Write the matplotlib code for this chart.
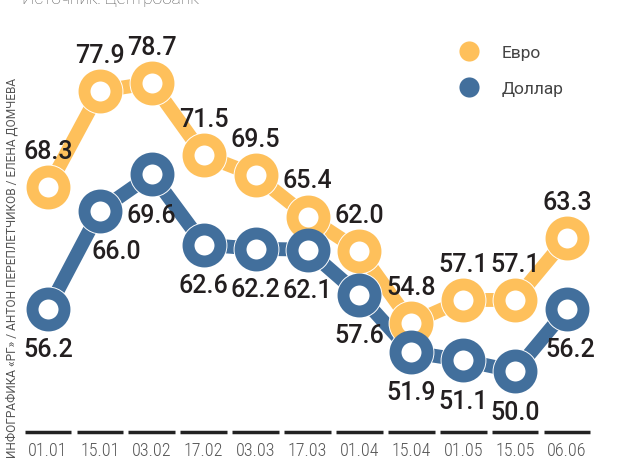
import matplotlib
matplotlib.use('Agg')
import matplotlib.pyplot as plt
from matplotlib import font_manager
from matplotlib.lines import Line2D

# Data: exchange rates, rubles
dates = ['01.01', '15.01', '03.02', '17.02', '03.03', '17.03',
         '01.04', '15.04', '01.05', '15.05', '06.06']
euro = [68.3, 77.9, 78.7, 71.5, 69.5, 65.4, 62.0, 54.8, 57.1, 57.1, 63.3]
dollar = [56.2, 66.0, 69.6, 62.6, 62.2, 62.1, 57.6, 51.9, 51.1, 50.0, 56.2]

# Colours
c_euro = '#FEC05B'
c_dollar = '#426F9C'
c_text = '#231F20'
c_grey = '#555555'

# Pick a narrow font for the date labels if one is installed
names = {f.name for f in font_manager.fontManager.ttflist}
narrow = 'Roboto'
for cand in ['Roboto Condensed', 'Liberation Sans Narrow', 'DejaVu Sans Condensed']:
    if cand in names:
        narrow = cand
        break

fig = plt.figure(figsize=(6.24, 4.64), dpi=100)
ax = fig.add_axes([0, 31 / 464, 1, 433 / 464])
x = list(range(len(dates)))


def draw_series(vals, color):
    ax.plot(x, vals, color=color, lw=10, solid_capstyle='butt', zorder=2)
    ax.plot(x, vals, ls='none', marker='o', ms=33, mfc='white', mec='none', zorder=3)
    ax.plot(x, vals, ls='none', marker='o', ms=23, mfc='white', mec=color, mew=8.6, zorder=4)


draw_series(euro, c_euro)
draw_series(dollar, c_dollar)

# Value labels
dx_dollar = [0, 12, 0, 0, 0, 0, 0, 0, 0, 0, 2]
for i, v in enumerate(euro):
    ax.annotate(f'{v:.1f}', (i, v), xytext=(0, 26), textcoords='offset points',
                ha='center', va='center', fontsize=18, fontweight='medium',
                family='Roboto', color=c_text, zorder=5)
for i, v in enumerate(dollar):
    ax.annotate(f'{v:.1f}', (i, v), xytext=(dx_dollar[i], -29), textcoords='offset points',
                ha='center', va='center', fontsize=18, fontweight='medium',
                family='Roboto', color=c_text, zorder=5)

# Axis limits so the points fall where they sit in the original
ax.set_xlim(-0.925, 11.098)
ax.set_ylim(43.96, 87.05)
for s in ax.spines.values():
    s.set_visible(False)
ax.set_yticks([])
ax.set_xticks(x, dates, family=narrow, fontsize=13, fontweight='light', color=c_grey)
ax.tick_params(axis='x', length=0, pad=6.5)

# Baseline segments under each date
for i in x:
    ax.plot([i - 0.45, i + 0.45], [0, 0], color='#222222', lw=2.5,
            solid_capstyle='butt', transform=ax.get_xaxis_transform(), clip_on=False)

# Legend
handles = [Line2D([], [], ls='none', marker='o', ms=14.5, mfc=c_euro, mec='none'),
           Line2D([], [], ls='none', marker='o', ms=14.5, mfc=c_dollar, mec='none')]
leg = fig.legend(handles, ['Евро', 'Доллар'], loc='center left',
                 bbox_to_anchor=(459 / 624, 1 - 71.5 / 464), frameon=False,
                 handlelength=1.2, handletextpad=1.26, labelspacing=1.2,
                 borderpad=0, borderaxespad=0,
                 prop={'family': 'Roboto', 'size': 12.5})
for t in leg.get_texts():
    t.set_color('#444444')

# Source and credits
fig.text(22 / 624, 1 - 4 / 464, 'Источник: Центробанк', ha='left', va='baseline',
         family='Roboto', fontsize=12.5, fontweight='light', color=c_grey)
fig.text(12 / 624, 1 - 268 / 464, 'ИНФОГРАФИКА «РГ» / АНТОН ПЕРЕПЛЕТЧИКОВ / ЕЛЕНА ДОМЧЕВА',
         rotation=90, ha='center', va='center', family='Roboto', fontsize=8.6,
         color=c_grey)

fig.savefig('out.png', dpi=100)
